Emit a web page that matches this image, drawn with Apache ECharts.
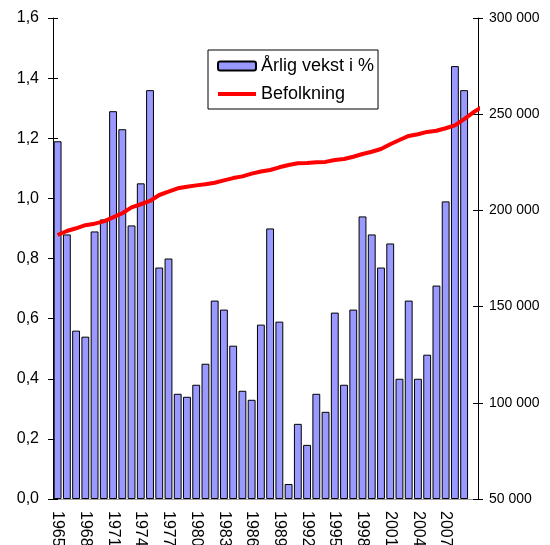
<!DOCTYPE html>
<html>
<head>
<meta charset="utf-8">
<script src="https://cdn.jsdelivr.net/npm/echarts@6/dist/echarts.min.js"></script>
<style>
  html, body { margin: 0; padding: 0; background: #fff; }
  #chart { width: 550px; height: 545px; }
</style>
</head>
<body>
<div id="chart"></div>
<script>
const years = [
  "1965", "1966", "1967", "1968", "1969", "1970", "1971", "1972", "1973", "1974",
  "1975", "1976", "1977", "1978", "1979", "1980", "1981", "1982", "1983", "1984",
  "1985", "1986", "1987", "1988", "1989", "1990", "1991", "1992", "1993", "1994",
  "1995", "1996", "1997", "1998", "1999", "2000", "2001", "2002", "2003", "2004",
  "2005", "2006", "2007", "2008", "2009", "2010",
];

// annual growth in percent, no value for the last year
const growth = [
  1.19, 0.88, 0.56, 0.54, 0.89, 0.93, 1.29, 1.23, 0.91, 1.05,
  1.36, 0.77, 0.80, 0.35, 0.34, 0.38, 0.45, 0.66, 0.63, 0.51,
  0.36, 0.33, 0.58, 0.90, 0.59, 0.05, 0.25, 0.18, 0.35, 0.29,
  0.62, 0.38, 0.63, 0.94, 0.88, 0.77, 0.85, 0.40, 0.66, 0.40,
  0.48, 0.71, 0.99, 1.44, 1.36, null,
];

const population = [
  187200, 189300, 190700, 192300, 193100, 194300, 196400, 198500, 201600, 203200,
  204900, 208000, 209700, 211500, 212300, 213000, 213600, 214400, 215600, 216800,
  217700, 219100, 220200, 221000, 222400, 223600, 224500, 224600, 225000, 225200,
  226200, 226700, 227900, 229300, 230500, 231900, 234400, 236600, 238700, 239600,
  240800, 241400, 242700, 244200, 247400, 251000, 253900,
];

const leftTicks = { min: 0, max: 1.6, interval: 0.2 };
const rightTicks = { min: 50000, max: 300000, interval: 50000 };

const chart = echarts.init(document.getElementById("chart"));

function commaDecimal(value) {
  return value.toFixed(1).replace(".", ",");
}

function spacedThousands(value) {
  return String(Math.round(value)).replace(/\B(?=(\d{3})+(?!\d))/g, " ");
}

const font = "'Liberation Sans', Arial, sans-serif";

// extra copies of the value axes that only draw the inner half of the ticks
function innerTicks(range, position) {
  return {
    type: "value",
    position,
    ...range,
    axisLine: { show: false },
    axisTick: { show: true, inside: true, length: 5, lineStyle: { color: "#000" } },
    axisLabel: { show: false },
    splitLine: { show: false },
  };
}

chart.setOption({
  animation: false,
  textStyle: { fontFamily: font, color: "#000" },
  grid: { left: 53, right: 72, top: 18, bottom: 46, outerBoundsMode: "none" },
  legend: {
    left: 208,
    top: 50,
    orient: "vertical",
    backgroundColor: "#fff",
    borderColor: "#000",
    borderWidth: 1,
    padding: [6, 4, 5, 8],
    itemWidth: 38,
    itemHeight: 9,
    itemGap: 8,
    textStyle: { fontFamily: font, fontSize: 18, color: "#000", lineHeight: 20 },
    data: [
      "Årlig vekst i %",
      {
        name: "Befolkning",
        itemStyle: { color: "rgba(0,0,0,0)", borderWidth: 0 },
        lineStyle: { color: "#ff0000", width: 4 },
      },
    ],
  },
  xAxis: [
    {
      type: "category",
      data: years,
      boundaryGap: true,
      axisLine: { lineStyle: { color: "#000", width: 1 } },
      axisTick: { interval: 0, length: 4, lineStyle: { color: "#000" } },
      axisLabel: {
        interval: index => index % 3 === 0 && index < 45,
        rotate: -90,
        margin: 12,
        fontSize: 16,
        color: "#000",
      },
    },
    {
      type: "category",
      data: years,
      position: "top",
      axisLine: { lineStyle: { color: "#a0a0a0", width: 1 } },
      axisTick: { show: false },
      axisLabel: { show: false },
    },
  ],
  yAxis: [
    {
      type: "value",
      ...leftTicks,
      axisLine: { show: true, lineStyle: { color: "#000" } },
      axisTick: { show: true, length: 5, lineStyle: { color: "#000" } },
      splitLine: { show: false },
      axisLabel: { formatter: commaDecimal, margin: 14, fontSize: 16, color: "#000" },
    },
    {
      type: "value",
      position: "right",
      ...rightTicks,
      axisLine: { show: true, lineStyle: { color: "#000" } },
      axisTick: { show: true, length: 5, lineStyle: { color: "#000" } },
      splitLine: { show: false },
      axisLabel: { formatter: spacedThousands, margin: 11, fontSize: 14, color: "#000" },
    },
    innerTicks(leftTicks, "left"),
    innerTicks(rightTicks, "right"),
  ],
  series: [
    {
      name: "Årlig vekst i %",
      type: "bar",
      data: growth,
      barCategoryGap: "15%",
      itemStyle: { color: "#9999ff", borderColor: "#000", borderWidth: 1 },
    },
    {
      name: "Befolkning",
      type: "line",
      yAxisIndex: 1,
      data: population,
      symbol: "none",
      lineStyle: { color: "#ff0000", width: 4 },
      itemStyle: { color: "#ff0000" },
      z: 3,
    },
  ],
});
</script>
</body>
</html>
